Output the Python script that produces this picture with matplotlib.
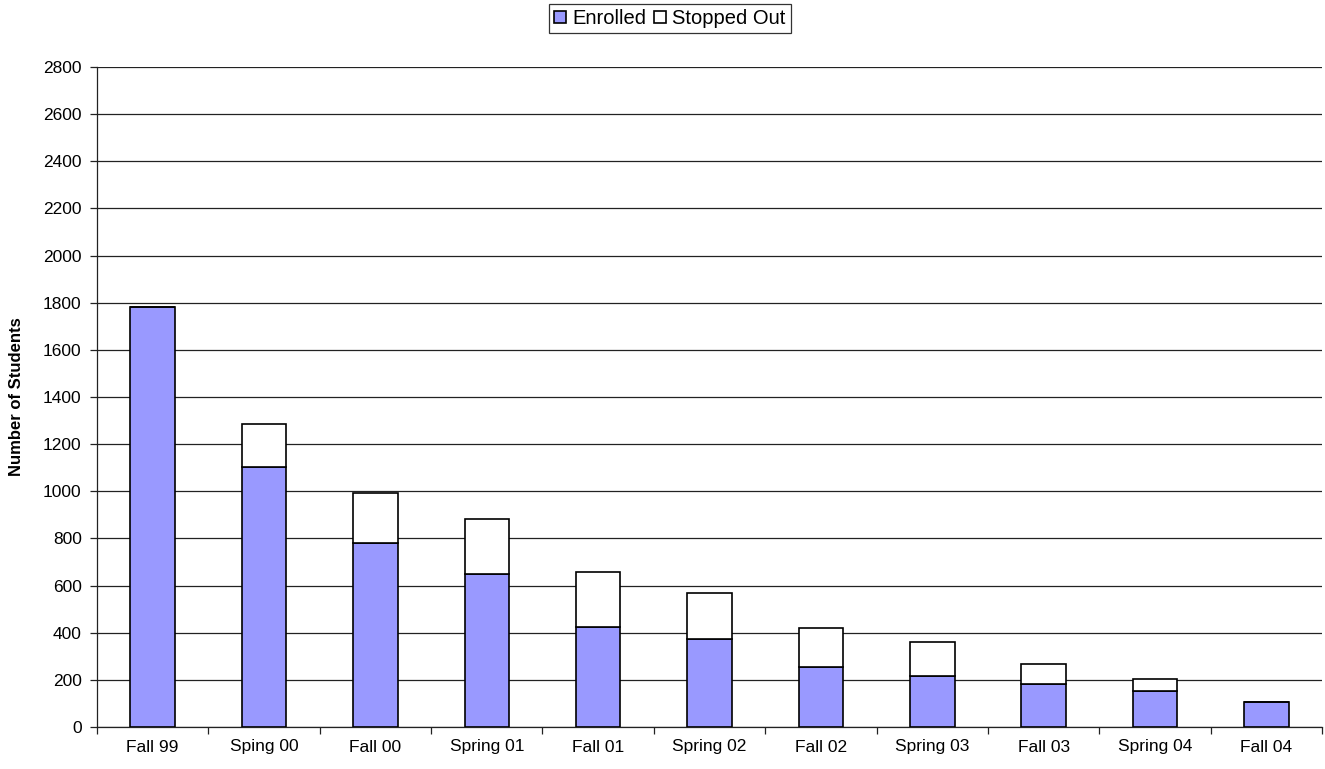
import matplotlib
matplotlib.use("Agg")
import matplotlib.pyplot as plt
import numpy as np
from matplotlib.ticker import MultipleLocator, FixedLocator

plt.rcParams['font.family'] = ['Liberation Sans', 'DejaVu Sans']

categories = ["Fall 99", "Sping 00", "Fall 00", "Spring 01", "Fall 01", "Spring 02",
              "Fall 02", "Spring 03", "Fall 03", "Spring 04", "Fall 04"]
enrolled = [1780, 1103, 782, 648, 423, 375, 253, 216, 184, 154, 108]
totals = [1780, 1287, 994, 881, 657, 568, 420, 359, 266, 204, 108]
stopped_out = [t - e for t, e in zip(totals, enrolled)]

fig = plt.figure(figsize=(13.25, 7.69), dpi=100)
ax = fig.add_axes([97/1325, 42/769, 1225/1325, 660/769])

x = np.arange(len(categories))
w = 0.40
b1 = ax.bar(x, enrolled, w, color='#9999FF', edgecolor='black', linewidth=1.2,
            label='Enrolled', zorder=3)
b2 = ax.bar(x, stopped_out, w, bottom=enrolled, color='white', edgecolor='black',
            linewidth=1.2, label='Stopped Out', zorder=3)

ax.set_xlim(-0.5, len(categories) - 0.5)
ax.set_ylim(0, 2800)
ax.yaxis.set_major_locator(MultipleLocator(200))
ax.grid(axis='y', color='#222222', linewidth=0.9, zorder=0)
ax.set_axisbelow(True)

ax.set_xticks(x)
ax.set_xticklabels(categories, fontsize=12.5)
ax.xaxis.set_minor_locator(FixedLocator(np.arange(-0.5, len(categories), 1.0)))
ax.tick_params(axis='x', which='major', length=0, pad=9)
ax.tick_params(axis='x', which='minor', length=5, width=0.9, color='#222222', direction='out')
ax.tick_params(axis='y', labelsize=12.5, length=5, width=0.9, color='#222222', direction='out', pad=6)

for s in ['top', 'right']:
    ax.spines[s].set_visible(False)
for s in ['left', 'bottom']:
    ax.spines[s].set_color('#222222')
    ax.spines[s].set_linewidth(0.9)

ax.set_ylabel('Number of Students', fontsize=12, fontweight='bold', labelpad=14)

leg = fig.legend(handles=[b1, b2], labels=['Enrolled', 'Stopped Out'],
                 loc='upper center', bbox_to_anchor=(670/1325, 1 - 4/769), ncol=2,
                 fontsize=14.5, frameon=True, fancybox=False, edgecolor='black',
                 handlelength=0.6, handleheight=0.6, handletextpad=0.3,
                 columnspacing=0.4, borderpad=0.25, borderaxespad=0)
leg.get_frame().set_linewidth(0.9)

fig.savefig('out.png', dpi=100)
